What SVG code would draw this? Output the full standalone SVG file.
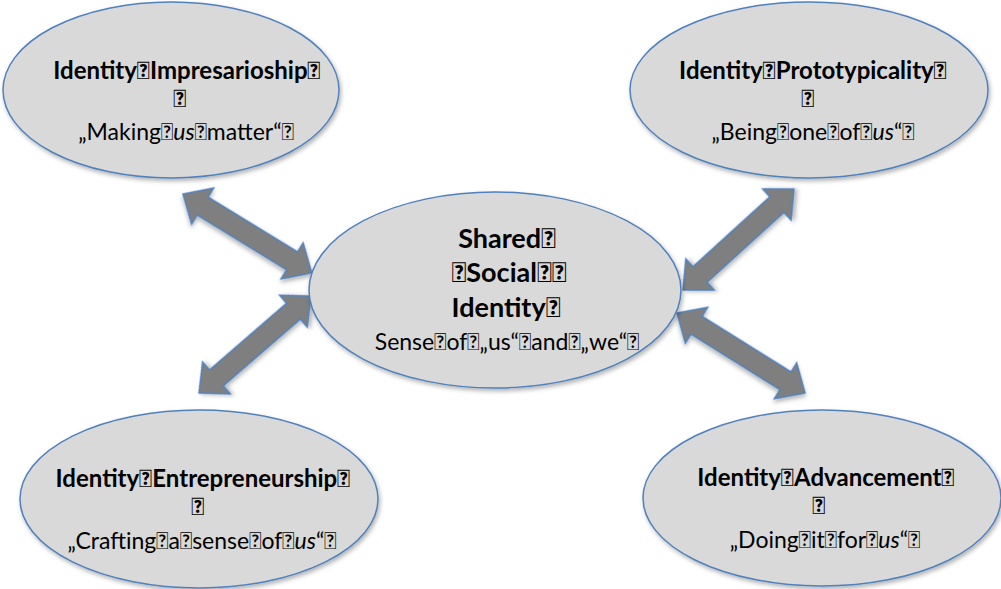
<svg xmlns="http://www.w3.org/2000/svg" width="1001" height="589" viewBox="0 0 1001 589">
<style>
.node{fill:#d9d9d9;stroke:#4f81bd;stroke-width:1.5;filter:url(#sh)}
.arrow{fill:#7f7f7f;stroke:#4f81bd;stroke-width:1.5;stroke-linejoin:miter;filter:url(#sh)}
.b{font-family:Lato,"Liberation Sans",sans-serif;font-weight:bold;font-size:24px;fill:#000;text-anchor:middle}
.bc{font-family:Lato,"Liberation Sans",sans-serif;font-weight:bold;font-size:27px;fill:#000;text-anchor:middle}
.r{font-family:Lato,"Liberation Sans",sans-serif;font-size:23px;fill:#000;text-anchor:middle}
.rc{font-family:Lato,"Liberation Sans",sans-serif;font-size:23px;fill:#000;text-anchor:middle}
.i{font-style:italic}
</style>
<defs>
<filter id="sh" x="-10%" y="-10%" width="125%" height="130%">
<feDropShadow dx="1.5" dy="2.5" stdDeviation="2" flood-color="#000" flood-opacity="0.3"/>
</filter>
</defs>
<g id="connectors">
<polygon class="arrow" transform="translate(183,194) rotate(31.5)" points="0,0 23,-21 23,-10.5 128,-10.5 128,-21 151,0 128,21 128,10.5 23,10.5 23,21"/>
<polygon class="arrow" transform="translate(199,393) rotate(-40.9)" points="0,0 23,-21 23,-10.5 125,-10.5 125,-21 148,0 125,21 125,10.5 23,10.5 23,21"/>
<polygon class="arrow" transform="translate(683,290) rotate(-42.3)" points="0,0 23,-21 23,-10.5 127,-10.5 127,-21 150,0 127,21 127,10.5 23,10.5 23,21"/>
<polygon class="arrow" transform="translate(677,313) rotate(32)" points="0,0 23,-21 23,-10.5 128,-10.5 128,-21 151,0 128,21 128,10.5 23,10.5 23,21"/>
</g>
<g id="node-impresarioship">
<ellipse class="node" cx="171" cy="90" rx="168" ry="88"/>
<text class="b" x="187" y="79">Identity&#xF020;Impresarioship&#xF020;</text>
<text class="b" x="180" y="107">&#xF020;</text>
<text class="r" x="186" y="140">„Making&#xF020;<tspan class="i">us</tspan>&#xF020;matter“&#xF020;</text>
</g>
<g id="node-prototypicality">
<ellipse class="node" cx="809" cy="90" rx="179" ry="88"/>
<text class="b" x="813" y="79">Identity&#xF020;Prototypicality&#xF020;</text>
<text class="b" x="808" y="107">&#xF020;</text>
<text class="r" x="813" y="140">„Being&#xF020;one&#xF020;of&#xF020;<tspan class="i">us</tspan>“&#xF020;</text>
</g>
<g id="node-shared">
<ellipse class="node" cx="495" cy="290" rx="186" ry="98"/>
<text class="bc" x="507" y="248">Shared&#xF020;</text>
<text class="bc" x="509" y="282">&#xF020;Social&#xF020;&#xF020;</text>
<text class="bc" x="506" y="317">Identity&#xF020;</text>
<text class="rc" x="507" y="350">Sense&#xF020;of&#xF020;„us“&#xF020;and&#xF020;„we“&#xF020;</text>
</g>
<g id="node-entrepreneurship">
<ellipse class="node" cx="199" cy="499" rx="179" ry="89"/>
<text class="b" x="203" y="487">Identity&#xF020;Entrepreneurship&#xF020;</text>
<text class="b" x="198" y="515">&#xF020;</text>
<text class="r" x="202" y="549">„Crafting&#xF020;a&#xF020;sense&#xF020;of&#xF020;<tspan class="i">us</tspan>“&#xF020;</text>
</g>
<g id="node-advancement">
<ellipse class="node" cx="822" cy="498" rx="179" ry="88"/>
<text class="b" x="826" y="486">Identity&#xF020;Advancement&#xF020;</text>
<text class="b" x="819" y="514">&#xF020;</text>
<text class="r" x="825" y="548">„Doing&#xF020;it&#xF020;for&#xF020;<tspan class="i">us</tspan>“&#xF020;</text>
</g>
</svg>
